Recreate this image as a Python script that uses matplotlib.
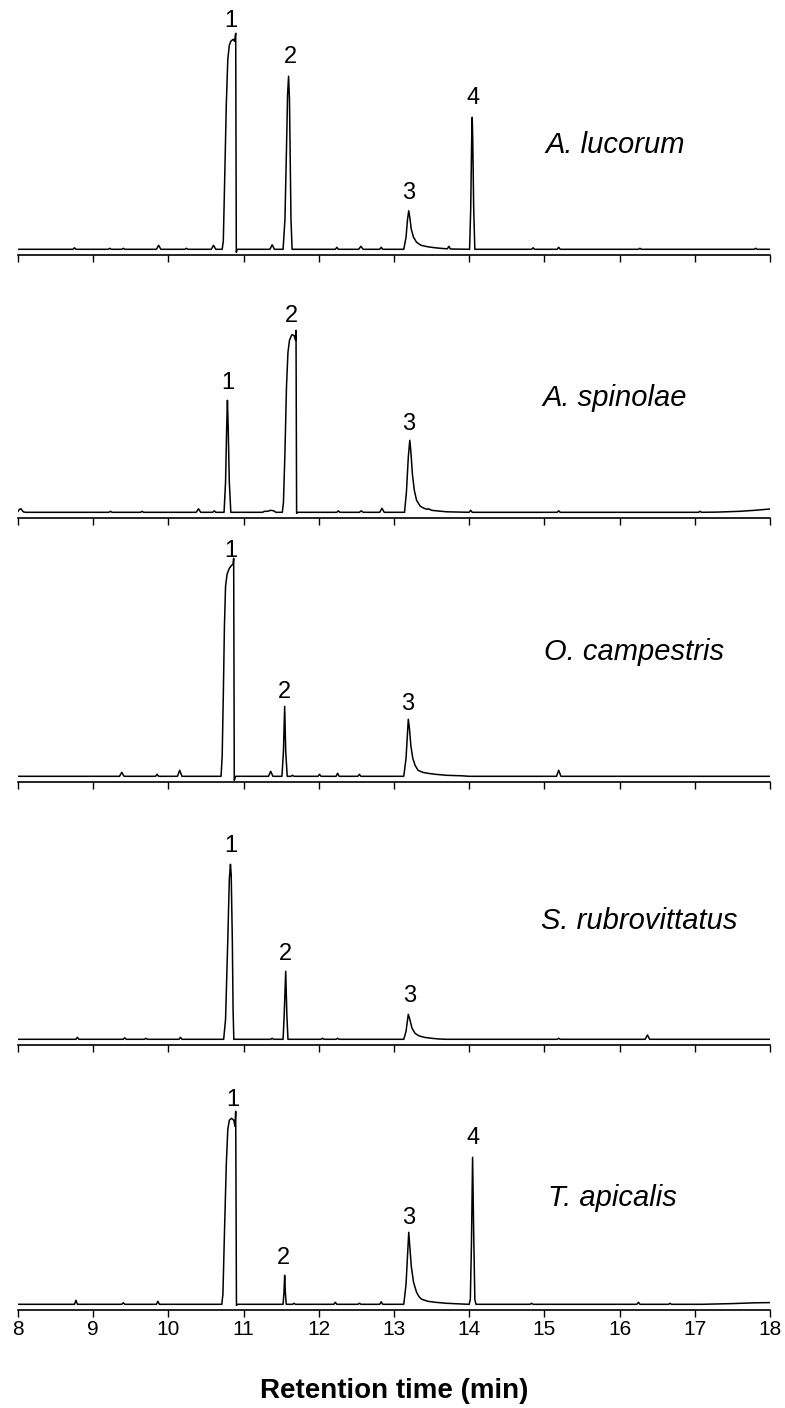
import matplotlib
matplotlib.use("Agg")
import matplotlib.pyplot as plt

plt.rcParams['font.family'] = ['Liberation Sans', 'DejaVu Sans']

# ---------------- data (retention time in min, detector signal in arbitrary units) ----------------
species = ["A. lucorum", "A. spinolae", "O. campestris", "S. rubrovittatus", "T. apicalis"]

t_lucorum = [8.0, 8.73, 8.75, 8.77, 9.20, 9.22, 9.24, 9.38, 9.40, 9.42, 9.84, 9.87, 9.90,
             10.22, 10.24, 10.26, 10.57, 10.60, 10.63,
             10.715, 10.73, 10.75, 10.77, 10.79, 10.81, 10.83, 10.86, 10.88, 10.895, 10.903, 10.915,
             11.35, 11.38, 11.41,
             11.525, 11.55, 11.57, 11.585, 11.598, 11.61, 11.62, 11.63, 11.645,
             12.22, 12.24, 12.26, 12.53, 12.56, 12.59, 12.81, 12.83, 12.85,
             13.13, 13.16, 13.18, 13.196, 13.21, 13.23, 13.26, 13.30, 13.36, 13.45, 13.55, 13.65, 13.70,
             13.71, 13.73, 13.75,
             14.005, 14.02, 14.033, 14.04, 14.047, 14.06, 14.075,
             14.83, 14.85, 14.87, 15.17, 15.19, 15.21, 16.25, 16.27, 16.29, 17.79, 17.81, 17.83, 18.0]
s_lucorum = [0, 0, 1.5, 0, 0, 1, 0, 0, 1, 0, 0, 4, 0,
             0, 1, 0, 0, 4, 0,
             0, 8, 75, 145, 190, 204, 208, 210, 208, 216, -3, 0,
             0, 4.5, 0,
             0, 30, 100, 155, 173, 150, 90, 30, 0,
             0, 2, 0, 0, 3, 0, 0, 2, 0,
             0, 12, 30, 38.5, 32, 20, 12, 7, 4, 2.5, 1.5, 0.8, 0.5,
             0.5, 3, 0.3,
             0, 40, 110, 132, 110, 40, 0,
             0, 1.5, 0, 0, 2, 0, 0, 1, 0, 0, 1, 0, 0]

t_spinolae = [8.0, 8.02, 8.04, 8.07, 8.10, 9.21, 9.23, 9.25, 9.63, 9.65, 9.67,
              10.37, 10.40, 10.43, 10.59, 10.61, 10.63,
              10.74, 10.76, 10.775, 10.785, 10.795, 10.81, 10.83,
              11.25, 11.28, 11.32, 11.36, 11.40, 11.43,
              11.515, 11.53, 11.55, 11.57, 11.59, 11.61, 11.64, 11.67, 11.69, 11.697, 11.705, 11.72,
              12.24, 12.26, 12.28, 12.54, 12.565, 12.59, 12.81, 12.84, 12.87,
              13.14, 13.165, 13.19, 13.21, 13.225, 13.245, 13.27, 13.30, 13.35, 13.40, 13.44, 13.46,
              13.50, 13.60, 13.70,
              14.00, 14.02, 14.04, 15.17, 15.19, 15.21, 17.05, 17.07, 17.09,
              17.30, 17.60, 17.80, 18.0]
s_spinolae = [1, 3, 3.5, 0.5, 0, 0, 1, 0, 0, 1, 0,
              0, 3.5, 0, 0, 1.5, 0,
              0, 30, 85, 112, 85, 30, 0,
              0, 1, 1, 2, 1.5, 0,
              0, 10, 60, 125, 160, 172, 177.5, 177, 172, 182, -1, 0,
              0, 1.5, 0, 0, 1.5, 0, 0, 4, 0,
              0, 20, 55, 72, 60, 38, 22, 12, 6, 4, 3, 3.5,
              2, 1.2, 0.5,
              0, 2, 0, 0, 1.5, 0, 0, 1, 0,
              0.2, 1, 2, 3.3]

t_campestris = [8.0, 9.35, 9.38, 9.41, 9.83, 9.85, 9.87, 10.12, 10.15, 10.18,
                10.70, 10.715, 10.73, 10.745, 10.76, 10.78, 10.81, 10.84, 10.86, 10.868, 10.876, 10.895,
                11.33, 11.36, 11.39,
                11.51, 11.53, 11.546, 11.56, 11.58,
                11.63, 11.65, 11.67, 11.99, 12.01, 12.03, 12.23, 12.25, 12.27, 12.52, 12.54, 12.56,
                13.13, 13.16, 13.19, 13.205, 13.225, 13.25, 13.28, 13.32, 13.38, 13.45, 13.55, 13.70,
                13.90, 14.0,
                15.16, 15.19, 15.22, 18.0]
s_campestris = [0, 0, 4, 0, 0, 2, 0, 0, 6, 0,
                0, 20, 80, 150, 190, 202, 208, 211, 212, 218, -4, 0,
                0, 5, 0,
                0, 25, 70, 25, 0,
                0, 1, 0, 0, 2, 0, 0, 3, 0, 0, 2, 0,
                0, 18, 57, 48, 30, 18, 11, 6, 4, 3, 2, 1,
                0.5, 0,
                0, 6, 0, 0]

t_rubrovittatus = [8.0, 8.77, 8.79, 8.81, 9.40, 9.42, 9.44, 9.68, 9.70, 9.72, 10.14, 10.16, 10.18,
                   10.735, 10.76, 10.79, 10.81, 10.825, 10.835, 10.85, 10.86, 10.87,
                   11.36, 11.38, 11.40,
                   11.525, 11.54, 11.56, 11.575, 11.59,
                   12.03, 12.05, 12.07, 12.23, 12.25, 12.27,
                   13.13, 13.16, 13.19, 13.21, 13.24, 13.28, 13.33, 13.40, 13.50, 13.60, 13.70,
                   15.17, 15.19, 15.21, 16.34, 16.37, 16.40, 18.0]
s_rubrovittatus = [0, 0, 2, 0, 0, 1.5, 0, 0, 1, 0, 0, 2, 0,
                   0, 20, 100, 160, 175, 165, 100, 30, 0,
                   0, 1, 0,
                   0, 25, 68, 25, 0,
                   0, 1, 0, 0, 1, 0,
                   0, 8, 25, 20, 11, 6, 3.5, 2, 1, 0.3, 0,
                   0, 1, 0, 0, 4.3, 0, 0]

t_apicalis = [8.0, 8.75, 8.77, 8.79, 9.38, 9.40, 9.42, 9.84, 9.86, 9.88,
              10.71, 10.725, 10.745, 10.77, 10.79, 10.81, 10.84, 10.87, 10.885, 10.895, 10.905, 10.92,
              11.525, 11.537, 11.546, 11.555, 11.567,
              11.65, 11.67, 11.69, 12.20, 12.22, 12.24, 12.52, 12.54, 12.56, 12.81, 12.83, 12.85,
              13.13, 13.16, 13.196, 13.21, 13.23, 13.26, 13.30, 13.33, 13.34, 13.37, 13.45, 13.55,
              13.70, 13.90,
              14.0, 14.015, 14.03, 14.045, 14.06, 14.075, 14.09,
              14.81, 14.83, 14.85, 16.23, 16.25, 16.27, 16.65, 16.67, 16.69,
              17.10, 17.50, 17.80, 18.0]
s_apicalis = [0, 0, 4, 0, 0, 1.5, 0, 0, 3, 0,
              0, 10, 70, 140, 175, 184, 186, 184, 178, 193, -1, 0,
              0, 12, 29, 12, 0,
              0, 1, 0, 0, 2, 0, 0, 1, 0, 0, 2.5, 0,
              0, 20, 72, 58, 38, 22, 12, 8, 7, 5, 3, 2,
              1, 0.3,
              0, 5, 60, 147, 70, 5, 0,
              0, 1, 0, 0, 2, 0, 0, 1, 0,
              0, 0.7, 1.5, 1.7]

traces_t = [t_lucorum, t_spinolae, t_campestris, t_rubrovittatus, t_apicalis]
traces_s = [s_lucorum, s_spinolae, s_campestris, s_rubrovittatus, s_apicalis]

# peak number labels: text, retention time, signal level of label baseline
peak_names = [["1", "2", "3", "4"], ["1", "2", "3"], ["1", "2", "3"], ["1", "2", "3"], ["1", "2", "3", "4"]]
peak_label_t = [[10.83, 11.62, 13.196, 14.045], [10.79, 11.635, 13.20], [10.83, 11.546, 13.18],
                [10.835, 11.56, 13.21], [10.85, 11.53, 13.196, 14.045]]
peak_label_s = [[222.6, 186, 50, 145], [123, 190, 82.5], [219.7, 78.4, 66.7],
                [187, 79, 37.7], [198.4, 40.5, 80, 160]]

species_t = [15.02, 14.98, 15.0, 14.95, 15.05]
species_s = [96.6, 106.7, 116.7, 110.7, 98.3]

xticks = [8, 9, 10, 11, 12, 13, 14, 15, 16, 17, 18]

# ---------------- figure ----------------
W, H = 785, 1408
fig = plt.figure(figsize=(W / 100, H / 100), dpi=100)

spine_px = [255, 518, 782, 1045, 1310]   # y position (from top) of each panel's axis line
ax_h_px = 250
left_px, right_px = 18, 770

for i in range(5):
    bottom = (H - spine_px[i]) / H
    ax = fig.add_axes([left_px / W, bottom, (right_px - left_px) / W, ax_h_px / H])
    ax.plot(traces_t[i], traces_s[i], color='black', lw=1.1, solid_joinstyle='round')
    ax.set_xlim(8, 18)
    ax.set_ylim(-5.7, ax_h_px - 5.7)
    for sp in ['top', 'left', 'right']:
        ax.spines[sp].set_visible(False)
    ax.spines['bottom'].set_linewidth(1.2)
    ax.set_yticks([])
    ax.set_xticks(xticks)
    ax.tick_params(axis='x', direction='out', length=5, width=1.0, pad=2, labelsize=15)
    if i < 4:
        ax.set_xticklabels([])
    else:
        ax.set_xticklabels([str(v) for v in xticks])
    for name, tx, sy in zip(peak_names[i], peak_label_t[i], peak_label_s[i]):
        ax.text(tx, sy, name, ha='center', va='baseline', fontsize=17)
    ax.text(species_t[i], species_s[i], species[i], ha='left', va='baseline',
            fontsize=21, style='italic')

fig.text((left_px + right_px) / 2 / W, (H - 1398) / H, "Retention time (min)",
         ha='center', va='baseline', fontsize=20, fontweight='bold')

fig.savefig("out.png", dpi=100)
